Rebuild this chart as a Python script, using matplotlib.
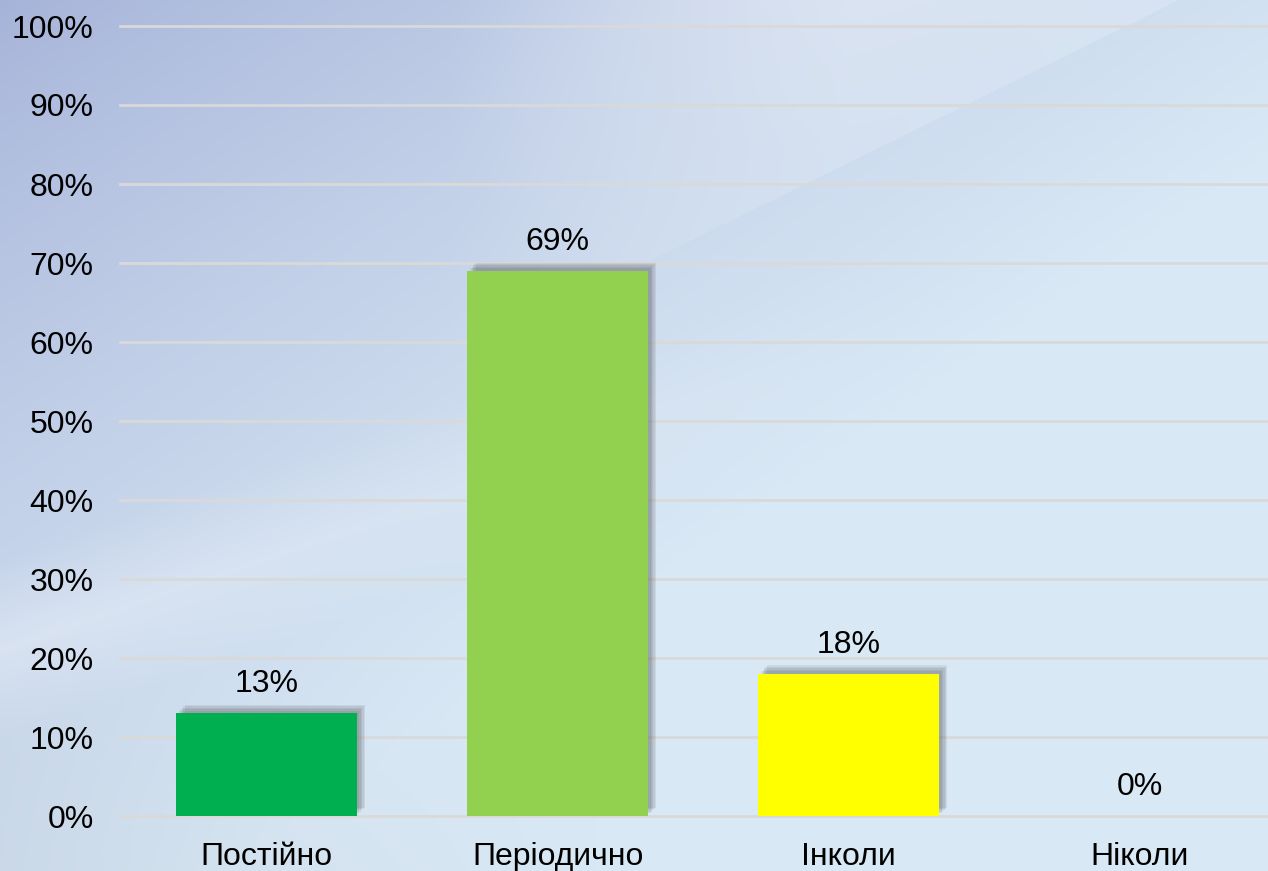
import numpy as np
import matplotlib
matplotlib.use("Agg")
from matplotlib import pyplot as plt
from matplotlib import patheffects as pe
from matplotlib.ticker import PercentFormatter

# data
categories = ["Постійно", "Періодично", "Інколи", "Ніколи"]
shares = [0.13, 0.69, 0.18, 0.00]
bar_colors = ["#00B050", "#92D050", "#FFFF00", "#FFFFFF"]
y_ticks = [0, 0.1, 0.2, 0.3, 0.4, 0.5, 0.6, 0.7, 0.8, 0.9, 1.0]

plt.rcParams['font.family'] = ['Liberation Sans', 'DejaVu Sans']

W, H = 1268, 871
fig = plt.figure(figsize=(W / 100, H / 100), dpi=100)

# background: bluish gradient with light diagonal streaks
yy, xx = np.mgrid[0:H, 0:W]
t = np.clip(xx / W * 0.85 + yy / H * 0.85, 0, 1) ** 0.8
c1 = np.array([0.65, 0.70, 0.85])
c2 = np.array([0.85, 0.91, 0.96])
bg = c1 * (1 - t[..., None]) + c2 * t[..., None]
# upper-right light wedge above the line (0,580)-(1180,0)
d = yy - (580 - 580 / 1180 * xx)
wedge = (d < 0) * (0.35 + 0.65 * np.clip(-d / 250, 0, 1)) * np.clip((xx - 450) / 400, 0, 1)
bg = bg + (1 - bg) * (0.45 * wedge[..., None])
# faint light streak in the lower left
d2 = yy - (590 - 0.35 * xx)
streak = np.clip(1 - np.abs(d2 - 60) / 90, 0, 1) * np.clip(1 - xx / 900, 0, 1)
bg = bg + (1 - bg) * (0.3 * streak[..., None])
low = np.clip((yy - 620) / 250, 0, 1) * np.clip(1 - xx / 600, 0, 1)
bg = bg * (1 - 0.04 * low[..., None])
bg_ax = fig.add_axes([0, 0, 1, 1], zorder=-1)
bg_ax.imshow(np.clip(bg, 0, 1), aspect='auto', extent=(0, 1, 0, 1))
bg_ax.axis('off')

ax = fig.add_axes([120 / W, 55 / H, 1148 / W, 790 / H])
ax.set_facecolor('none')

shadow = [pe.SimplePatchShadow(offset=(k, k), shadow_rgbFace='#3c3c3c', alpha=0.09)
          for k in (6, 5, 4, 3, 2)]

x = np.arange(len(categories))
bars = ax.bar(x, shares, width=0.62, color=bar_colors, zorder=3)
for b, v in zip(bars, shares):
    if v > 0:
        b.set_path_effects(shadow + [pe.Normal()])
    else:
        b.set_visible(False)
    ax.annotate(f"{v:.0%}", (b.get_x() + b.get_width() / 2, v),
                xytext=(0, 10), textcoords='offset points',
                ha='center', va='bottom', fontsize=23)

ax.set_xlim(-0.503, 3.44)
ax.set_ylim(0, 1)
ax.set_yticks(y_ticks)
ax.yaxis.set_major_formatter(PercentFormatter(1.0, decimals=0))
ax.set_xticks(x)
ax.set_xticklabels(categories)
ax.tick_params(axis='y', length=0, pad=19, labelsize=23)
ax.tick_params(axis='x', length=0, pad=19, labelsize=23)
ax.grid(axis='y', color='#d9d9d9', linewidth=2, zorder=1)
for line in ax.get_ygridlines():
    line.set_clip_on(False)
for s in ax.spines.values():
    s.set_visible(False)

fig.savefig("out.png", dpi=100)
